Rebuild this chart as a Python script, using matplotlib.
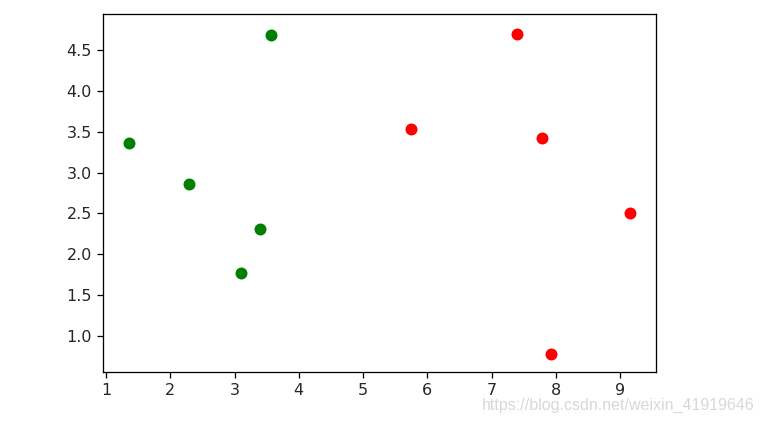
import numpy as np
import matplotlib.pyplot as plt

# green group
x_green = [1.36, 2.29, 3.57, 3.40, 3.10]
y_green = [3.36, 2.86, 4.68, 2.31, 1.77]
# red group
x_red = [7.40, 5.74, 7.79, 9.16, 7.92]
y_red = [4.70, 3.53, 3.42, 2.50, 0.78]

fig = plt.figure(figsize=(764/115, 426/115), dpi=115)
ax = fig.add_axes([103/764, 54/426, 553/764, 358/426])

ax.scatter(x_green, y_green, c='green', s=42)
ax.scatter(x_red, y_red, c='red', s=42)
ax.set_xlim(0.953, 9.56)
ax.set_ylim(0.56, 4.94)
ax.set_yticks([1.0, 1.5, 2.0, 2.5, 3.0, 3.5, 4.0, 4.5])
ax.tick_params(labelcolor='#262626')

fig.text(0.988, 0.03, 'https://blog.csdn.net/weixin_41919646', ha='right', va='bottom',
         color='#d8d8d8', fontsize=10, family='Liberation Sans')

fig.savefig('out.png', dpi=115)
